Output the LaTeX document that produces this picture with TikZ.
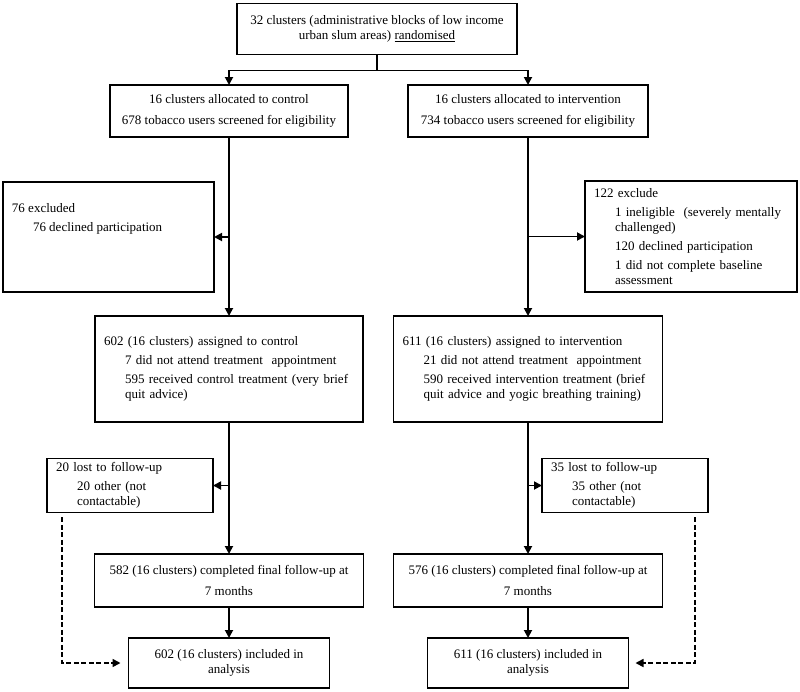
\documentclass[tikz,border=0pt]{standalone}
\usepackage{fontspec}
\setmainfont{Liberation Serif}
\usetikzlibrary{arrows.meta, positioning}

\newcommand{\ind}{\hspace*{21pt}}

\begin{document}
\begin{tikzpicture}[x=1pt, y=-1pt,
    line width=1.8pt,
    >={Triangle[length=8pt,width=8pt]},
    every node/.style={font=\fontsize{13}{15}\selectfont},
    box/.style={draw, line width=1.8pt, outer sep=0pt, align=center, inner xsep=9pt, inner ysep=4pt},
    listbox/.style={box, align=left},
    lost/.style={->, line width=1.6pt, dash pattern=on 5pt off 2.5pt}]

    \useasboundingbox (0,0) rectangle (800,691);

    \node[box, minimum width=280pt, minimum height=51pt] (rand) at (377,29)
        {32 clusters (administrative blocks of low income\\
         urban slum areas) \underline{randomised}};

    \node[box, minimum width=238pt, minimum height=52pt] (allocC) at (229,111)
        {16 clusters allocated to control\\[6pt]
         678 tobacco users screened for eligibility};
    \node[box, minimum width=240pt, minimum height=52pt] (allocI) at (528,111)
        {16 clusters allocated to intervention\\[6pt]
         734 tobacco users screened for eligibility};

    % exclusions
    \node[box, minimum height=110pt] (exclC) at (108.5,237)
        {\parbox[c][96pt][t]{193pt}{\raggedright\vspace*{14pt}
         76 excluded\\[4pt]
         \ind 76 declined participation}};
    \node[listbox, text width=194pt, minimum height=111pt] (exclI) at (691,236.5)
        {122 exclude\\[4pt]
         \ind 1 ineligible~ (severely mentally\\
         \ind challenged)\\[4pt]
         \ind 120 declined participation\\[4pt]
         \ind 1 did not complete baseline\\
         \ind assessment};

    % assignment
    \node[listbox, text width=250pt, minimum height=106pt] (assignC) [below=179pt of allocC]
        {602 (16 clusters) assigned to control\\[4pt]
         \ind 7 did not attend treatment~ appointment\\[4pt]
         \ind 595 received control treatment (very brief\\
         \ind quit advice)};
    \node[listbox, text width=251pt, minimum height=106pt] (assignI) [below=179pt of allocI]
        {611 (16 clusters) assigned to intervention\\[4pt]
         \ind 21 did not attend treatment~ appointment\\[4pt]
         \ind 590 received intervention treatment (brief\\
         \ind quit advice and yogic breathing training)};

    % losses
    \node[listbox, text width=148pt, minimum height=53pt] (lostC) at (130,485.5)
        {20 lost to follow-up\\[4pt]
         \ind 20 other (not\\
         \ind contactable)};
    \node[listbox, text width=148pt, minimum height=53pt] (lostI) at (625,485.5)
        {35 lost to follow-up\\[4pt]
         \ind 35 other (not\\
         \ind contactable)};

    % follow-up and analysis
    \node[box, minimum width=269pt, minimum height=53pt] (followC) [below=132pt of assignC]
        {582 (16 clusters) completed final follow-up at\\[6pt] 7 months};
    \node[box, minimum width=269pt, minimum height=53pt] (followI) [below=132pt of assignI]
        {576 (16 clusters) completed final follow-up at\\[6pt] 7 months};

    \node[box, minimum width=201pt, minimum height=50pt] (anaC) [below=31pt of followC]
        {602 (16 clusters) included in\\ analysis};
    \node[box, minimum width=201pt, minimum height=50pt] (anaI) [below=31pt of followI]
        {611 (16 clusters) included in\\ analysis};

    \draw (rand.south) -- ++(0,16) coordinate (split);
    \draw[->] (split) -| (allocC.north);
    \draw[->] (split) -| (allocI.north);

    \path[->]
    (allocC.south) edge (assignC.north)
    (allocI.south) edge (assignI.north)
    (allocC.south |- exclC.east) edge (exclC.east)
    (allocI.south |- exclI.west) edge (exclI.west)
    (assignC.south) edge (followC.north)
    (assignI.south) edge (followI.north)
    (assignC.south |- lostC.east) edge (lostC.east)
    (assignI.south |- lostI.west) edge (lostI.west)
    (followC.south) edge (anaC.north)
    (followI.south) edge (anaI.north)
    ;

    \draw[lost] ([xshift=15pt, yshift=-5pt]lostC.south west) |- ([xshift=-8pt]anaC.west);
    \draw[lost] ([xshift=-13pt, yshift=-5pt]lostI.south east) |- ([xshift=7pt]anaI.east);
\end{tikzpicture}
\end{document}
